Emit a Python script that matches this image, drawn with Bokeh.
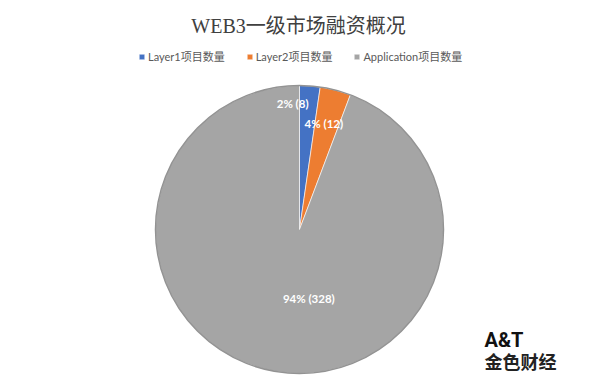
import numpy as np
from bokeh.plotting import figure
from bokeh.models import Label, Legend, LegendItem, ColumnDataSource
from bokeh.core.properties import value
from bokeh.embed import file_html
from bokeh.resources import INLINE

# ---- data ----
categories = ["Layer1项目数量", "Layer2项目数量", "Application项目数量"]
counts = [8, 12, 328]
pct_labels = ["2% (8)", "4% (12)", "94% (328)"]
title_text = "WEB3一级市场融资概况"

# ---- styles ----
colors = ["#4472C4", "#ED7D31", "#A5A5A5"]
label_radius = [0.88, 0.76, 0.49]
label_dx = [-16, -3, 22]  # px nudges
label_dy = [0, 0, 0]

W, H = 584, 376
R_PX = 144.0
cx_px, cy_px = 299.0, 229.0  # pie centre inside figure (from top-left)

p = figure(width=W, height=H, output_backend="svg", toolbar_location=None,
           x_range=(-cx_px / R_PX, (W - cx_px) / R_PX),
           y_range=(-(H - cy_px) / R_PX, cy_px / R_PX),
           min_border=0, outline_line_color=None)
p.axis.visible = False
p.grid.visible = False
p.background_fill_color = "white"
p.border_fill_color = "white"

vals = np.array(counts, dtype=float)
frac = vals / vals.sum()
cum = np.concatenate([[0], np.cumsum(frac)])
starts = np.pi / 2 - cum[:-1] * 2 * np.pi
ends = np.pi / 2 - cum[1:] * 2 * np.pi
mids = (starts + ends) / 2

items = []
for i, cat in enumerate(categories):
    r = p.wedge(x=0, y=0, radius=1, start_angle=starts[i], end_angle=ends[i],
                direction="clock", fill_color=colors[i], line_color="white",
                line_width=1, line_alpha=0.6)
    items.append(LegendItem(label=cat, renderers=[r]))

# outer rim
p.circle(x=0, y=0, radius=1, fill_color=None, line_color="#939393", line_width=1.5)

lx = [label_radius[i] * np.cos(mids[i]) for i in range(3)]
ly = [label_radius[i] * np.sin(mids[i]) for i in range(3)]
src = ColumnDataSource(dict(x=lx, y=ly, t=pct_labels, dx=label_dx, dy=label_dy))
p.text(x="x", y="y", text="t", x_offset="dx", y_offset="dy", source=src,
       text_color="white", text_font=value("Lato, Noto Sans CJK SC"),
       text_font_style="bold", text_font_size="11.5px",
       text_align="center", text_baseline="middle")

legend = Legend(items=items, orientation="horizontal", location=(138, H - 64),
                glyph_width=7, glyph_height=7, label_standoff=3, spacing=21,
                padding=0, margin=0, border_line_alpha=0, background_fill_alpha=0,
                label_text_font_size="11px", label_text_color="#595959",
                label_text_font="Lato, Noto Sans CJK SC", label_height=12)
p.add_layout(legend, "center")

p.add_layout(Label(x=298, y=H - 25, x_units="screen", y_units="screen", text=title_text,
                   text_align="center", text_baseline="middle", text_font_size="20px",
                   text_color="#404040", text_font="Liberation Serif, Noto Sans CJK SC"))

# watermark
p.add_layout(Label(x=484, y=H - 339, x_units="screen", y_units="screen", text="A&T",
                   text_align="left", text_baseline="middle", text_font_size="20px",
                   text_font_style="bold", text_color="#111111", text_font="Roboto"))
p.add_layout(Label(x=484, y=H - 360, x_units="screen", y_units="screen", text="金色财经",
                   text_align="left", text_baseline="middle", text_font_size="18px",
                   text_font_style="bold", text_color="#222222",
                   text_font="Noto Sans CJK SC"))

open("out.html", "w").write(file_html(p, INLINE))
